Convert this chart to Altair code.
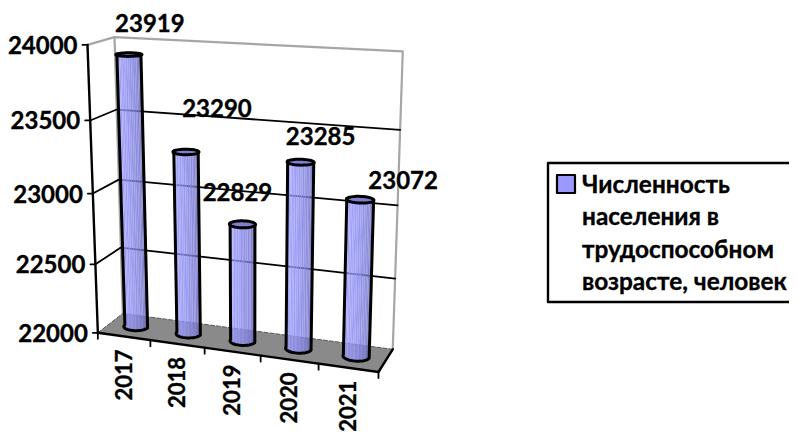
import numpy as np
import pandas as pd
import altair as alt

# ---- chart values ----
years = ["2017", "2018", "2019", "2020", "2021"]
values = [23919, 23290, 22829, 23285, 23072]
y_ticks = [22000, 22500, 23000, 23500, 24000]
legend_lines = ["Численность", "населения в", "трудоспособном", "возрасте, человек"]

# ---- layout / style ----
FONT = "Lato"
FS = 24
FS_X = 22
FS_LEG = 24.4
BAR_LIGHT = "#9999FF"
V0, V1 = 22000.0, 24000.0
RU, RD = 0.044, 0.2     # cylinder radius along the width and depth of the box
LABEL_OFFSETS = [(21, -30), (31, -42), (-5, -30), (20, -24), (43, -18)]

# Camera of the 3-D box, fitted from where its corners fall on the page.
# (u across, t up, d into the page) -> page pixel
calib = [
    ((0, 0, 0), (98, 333)), ((0, .25, 0), (95.5, 264)), ((0, .5, 0), (93, 193)),
    ((0, .75, 0), (90.5, 120)), ((0, 1, 0), (87.5, 45)),
    ((0, 0, 1), (123, 313)), ((0, .25, 1), (120.5, 248)), ((0, .5, 1), (118, 180)),
    ((0, .75, 1), (116.5, 110)), ((0, 1, 1), (115, 37)),
    ((1, 0, 1), (394, 348)), ((1, .25, 1), (395, 279)), ((1, .5, 1), (397, 206)),
    ((1, .75, 1), (400, 130)), ((1, 1, 1), (403, 51)),
    ((1, 0, 0), (378, 372)), ((.2, 0, 0), (150, 340)), ((.4, 0, 0), (205, 348)),
    ((.6, 0, 0), (261, 356)), ((.8, 0, 0), (318, 364)),
]
rows = []
for (X_, Y_, Z_), (px, py) in calib:
    a, b = px / 400.0, py / 400.0
    rows.append([X_, Y_, Z_, 1, 0, 0, 0, 0, -a * X_, -a * Y_, -a * Z_, -a])
    rows.append([0, 0, 0, 0, X_, Y_, Z_, 1, -b * X_, -b * Y_, -b * Z_, -b])
CAM = np.linalg.svd(np.array(rows, float))[2][-1].reshape(3, 4)


def proj(u, t, d):
    h = CAM @ np.array([u, t, d, 1.0])
    return 400.0 * h[0] / h[2], 400.0 * h[1] / h[2]


def tv(v):
    return (v - V0) / (V1 - V0)


X = alt.X("x:Q", scale=alt.Scale(domain=[8, 789], nice=False, zero=False), axis=None)
Y = alt.Y("y:Q", scale=alt.Scale(domain=[432, 8], nice=False, zero=False), axis=None)


def poly_layer(polys, opacity=1.0):
    recs = []
    for i, (pts, col) in enumerate(polys):
        for k, (x, y) in enumerate(pts):
            recs.append(dict(id=i, o=k, x=x, y=y, c=col))
    return alt.Chart(pd.DataFrame(recs)).mark_line(strokeWidth=0, fillOpacity=opacity).encode(
        x=X, y=Y, order=alt.Order("o:Q"), detail="id:N", fill=alt.Fill("c:N", scale=None)
    )


def line_layer(paths, color="#000000", width=2.0, dash=None, cap="round"):
    recs = []
    for i, pts in enumerate(paths):
        for k, (x, y) in enumerate(pts):
            recs.append(dict(id=i, o=k, x=x, y=y))
    kw = dict(color=color, strokeWidth=width, strokeCap=cap, strokeJoin="round")
    if dash:
        kw["strokeDash"] = dash
    return alt.Chart(pd.DataFrame(recs)).mark_line(**kw).encode(
        x=X, y=Y, order=alt.Order("o:Q"), detail="id:N"
    )


def text_layer(items, size=FS, **kw):
    df = pd.DataFrame(items, columns=["x", "y", "s"])
    return alt.Chart(df).mark_text(font=FONT, fontSize=size, fontWeight="bold", color="#000000",
                                   stroke="#000000", strokeWidth=0.35, **kw).encode(
        x=X, y=Y, text="s:N"
    )


# ---- box ----
grid_t = [tv(v) for v in y_ticks]
walls = [
    [proj(0, 1, 0), proj(0, 1, 1), proj(1, 1, 1), proj(1, 0, 1)],
    [proj(0, 1, 1), proj(0, 0, 1)],
]
floor = [([proj(0, 0, 0), proj(0, 0, 1), proj(1, 0, 1), proj(1, 0, 0)], "#8a8a8a")]
grid = [[proj(0, t, 0), proj(0, t, 1), proj(1, t, 1)] for t in grid_t[1:-1]]
floor_back = [[proj(0, 0, 0), proj(0, 0, 1), proj(1, 0, 1)]]
front_axis = [[proj(0, 0, 0), proj(1, 0, 0), proj(1, 0, 1)], [proj(0, 1, 0), proj(0, 0, 0)]]
y_tick_marks = [[(proj(0, t, 0)[0] - 5, proj(0, t, 0)[1]), proj(0, t, 0)] for t in grid_t]
x_tick_marks = []
for i in range(6):
    p = proj(i / 5, 0, 0)
    x_tick_marks.append([p, (p[0], p[1] + 6)])

# ---- cylinders ----
N = 22
angles = [np.pi + np.pi * k / N for k in range(N + 1)]
# darkness across the visible face: dark rims, light band left of the centre
shade = ["#5f5fb4", "#7979d2", "#8888e8", "#9696fa", "#8f8ff1", "#9e9eff", "#9494f5", "#a2a2ff",
         "#9292f2", "#9c9cfa", "#8f8ff0", "#9898f6", "#8b8bea", "#9292ee", "#8484e0", "#8b8be4",
         "#7d7dd8", "#8282d8", "#7575cc", "#6e6ec2", "#6464b2", "#5858a0"]
strips, caps, outlines = [], [], []
for i, v in enumerate(values):
    uc, dc = (i + 0.5) / 5, 0.5
    t = tv(v)
    for k in range(N):
        a0, a1 = angles[k], angles[k + 1]
        q = [(uc + RU * np.cos(a0), 0, dc + RD * np.sin(a0)), (uc + RU * np.cos(a1), 0, dc + RD * np.sin(a1)),
             (uc + RU * np.cos(a1), t, dc + RD * np.sin(a1)), (uc + RU * np.cos(a0), t, dc + RD * np.sin(a0))]
        strips.append(([proj(*p) for p in q], shade[k]))
    ring = [proj(uc + RU * np.cos(a), t, dc + RD * np.sin(a)) for a in np.linspace(0, 2 * np.pi, 41)]
    caps.append((ring, "#7878d0"))
    outlines.append(ring)
    base = [proj(uc + RU * np.cos(a), 0, dc + RD * np.sin(a)) for a in angles]
    outlines.append([proj(uc - RU, t, dc)] + base + [proj(uc + RU, t, dc)])

# ---- texts ----
y_labels = [(proj(0, tv(v), 0)[0] - 10, proj(0, tv(v), 0)[1] + 2, str(v)) for v in y_ticks]
x_labels = []
for i, y in enumerate(years):
    p = proj((i + 0.5) / 5, 0, 0)
    x_labels.append((p[0] + 1, p[1] + 13, y))
data_labels = []
for i, v in enumerate(values):
    p = proj((i + 0.5) / 5, tv(v), 0.5)
    data_labels.append((p[0] + LABEL_OFFSETS[i][0], p[1] + LABEL_OFFSETS[i][1], str(v)))
leg_text = [(582, 193 + 32.4 * k, s) for k, s in enumerate(legend_lines)]

legend_box = [[(789, 163), (548, 163), (548, 302), (789, 302)]]
swatch = [([(557, 175), (575, 175), (575, 193), (557, 193)], BAR_LIGHT)]
swatch_line = [[(557, 175), (575, 175), (575, 193), (557, 193), (557, 175)]]

chart = alt.layer(
    line_layer(walls, color="#a6a6a6", width=2.2),
    poly_layer(floor),
    line_layer(floor_back, color="#555555", width=1, dash=[4, 2]),
    line_layer(grid, color="#000000", width=1.8),
    poly_layer(strips, 0.88),
    poly_layer(caps, 0.95),
    line_layer(outlines, color="#000000", width=3),
    line_layer(front_axis, color="#000000", width=2.4),
    line_layer(y_tick_marks, color="#000000", width=1.8),
    line_layer(x_tick_marks, color="#000000", width=1.8),
    text_layer(y_labels, align="right", baseline="middle"),
    text_layer(x_labels, size=FS_X, align="right", baseline="middle", angle=270),
    text_layer(data_labels, align="center", baseline="middle"),
    line_layer(legend_box, color="#000000", width=2.4, cap="butt"),
    poly_layer(swatch),
    line_layer(swatch_line, color="#000000", width=2.2),
    text_layer(leg_text, size=FS_LEG, align="left", baseline="alphabetic"),
).properties(width=781, height=424, padding=0, background="#ffffff",
             autosize=alt.AutoSizeParams(type="none")).configure_view(stroke=None)

chart.save("out.html", embed_options={"renderer": "svg", "actions": False})
